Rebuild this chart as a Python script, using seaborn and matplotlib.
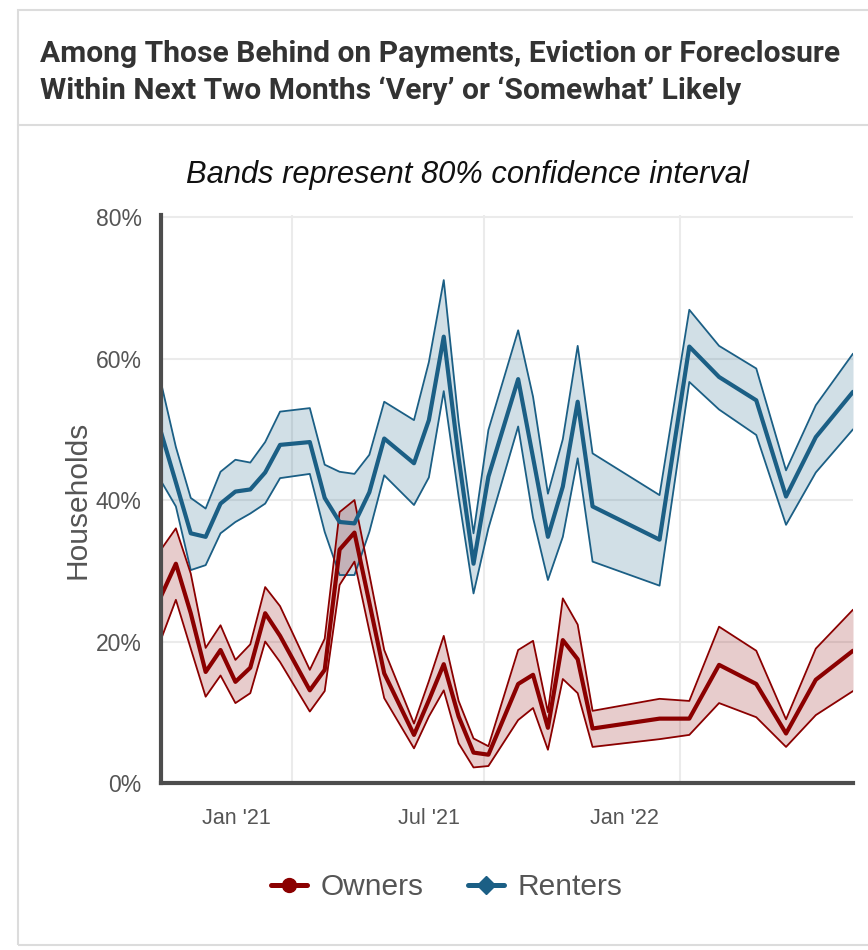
import matplotlib
matplotlib.use("Agg")
import matplotlib.pyplot as plt
from matplotlib.lines import Line2D
from matplotlib.patches import Rectangle
from matplotlib.transforms import ScaledTranslation
import pandas as pd
import seaborn as sns

# Household Pulse Survey collection periods (end date of each survey week)
week_end = [
    "2020-08-31", "2020-09-14", "2020-09-28", "2020-10-12", "2020-10-26",
    "2020-11-09", "2020-11-23", "2020-12-07", "2020-12-21", "2021-01-18",
    "2021-02-01", "2021-02-15", "2021-03-01", "2021-03-15", "2021-03-29",
    "2021-04-26", "2021-05-10", "2021-05-24", "2021-06-07", "2021-06-21",
    "2021-07-05", "2021-08-02", "2021-08-16", "2021-08-30", "2021-09-13",
    "2021-09-27", "2021-10-11", "2021-12-13", "2022-01-10", "2022-02-07",
    "2022-03-14", "2022-04-11", "2022-05-09", "2022-06-13",
]

# Share (%) saying eviction / foreclosure is very or somewhat likely
owners = [26.4, 31.0, 24.0, 15.7, 18.8, 14.3, 16.3, 24.0, 20.8, 13.1,
          16.0, 33.0, 35.4, 25.5, 15.5, 6.8, 11.7, 16.8, 9.4, 4.3,
          4.0, 14.0, 15.3, 7.8, 20.2, 17.5, 7.7, 9.1, 9.1, 16.7,
          14.0, 7.0, 14.6, 18.7]
owners_hi = [33.0, 36.0, 29.6, 19.1, 22.3, 17.4, 19.6, 27.7, 25.0, 16.0,
             20.4, 38.3, 40.0, 29.5, 18.8, 8.4, 14.4, 20.8, 11.6, 6.3,
             5.2, 18.8, 20.1, 10.0, 26.1, 22.4, 10.2, 11.9, 11.6, 22.1,
             18.7, 9.0, 19.0, 24.5]
owners_lo = [20.3, 25.9, 19.0, 12.2, 15.2, 11.3, 12.7, 20.0, 17.1, 10.1,
             13.0, 28.0, 31.3, 21.5, 12.0, 4.9, 9.4, 13.1, 5.6, 2.2,
             2.4, 8.9, 10.6, 4.7, 14.7, 12.7, 5.1, 6.2, 6.8, 11.3,
             9.3, 5.1, 9.6, 13.0]

renters = [49.6, 42.5, 35.3, 34.8, 39.5, 41.2, 41.5, 43.9, 47.8, 48.2,
           40.3, 36.9, 36.7, 41.1, 48.7, 45.2, 51.3, 63.1, 46.0, 31.0,
           43.3, 57.1, 46.0, 34.8, 41.9, 53.9, 39.1, 34.4, 61.7, 57.4,
           54.1, 40.5, 48.9, 55.3]
renters_hi = [56.6, 47.5, 40.3, 38.8, 44.0, 45.7, 45.3, 48.2, 52.5, 53.0,
              45.0, 44.0, 43.7, 46.4, 53.9, 51.3, 59.5, 71.1, 51.0, 35.3,
              49.9, 64.0, 54.6, 40.9, 48.6, 61.8, 46.6, 40.7, 66.9, 61.8,
              58.6, 44.2, 53.4, 60.7]
renters_lo = [42.7, 39.1, 30.1, 30.8, 35.3, 36.9, 38.1, 39.5, 43.1, 43.7,
              35.5, 29.4, 29.4, 35.5, 43.5, 39.3, 43.2, 55.4, 40.5, 26.8,
              36.0, 50.4, 37.5, 28.7, 34.8, 45.9, 31.3, 27.9, 56.7, 52.8,
              49.2, 36.5, 43.9, 50.0]

x_tick_dates = ["2021-01-01", "2021-07-01", "2022-01-01"]
x_tick_labels = ["Jan '21", "Jul '21", "Jan '22"]
y_ticks = [0, 20, 40, 60, 80]
y_tick_labels = ["0%", "20%", "40%", "60%", "80%"]

series_names = ["Owners", "Renters"]
colors = {"Owners": "#8b0000", "Renters": "#1b5f85"}
markers = {"Owners": "o", "Renters": "D"}

title_lines = [
    "Among Those Behind on Payments, Eviction or Foreclosure",
    "Within Next Two Months \u2018Very\u2019 or \u2018Somewhat\u2019 Likely",
]
subtitle = "Bands represent 80% confidence interval"

dates = pd.to_datetime(week_end)
df = pd.concat([
    pd.DataFrame({"date": dates, "group": "Owners", "value": owners,
                  "lo": owners_lo, "hi": owners_hi}),
    pd.DataFrame({"date": dates, "group": "Renters", "value": renters,
                  "lo": renters_lo, "hi": renters_hi}),
], ignore_index=True)

sns.set_theme(style="white")
plt.rcParams["font.family"] = ["Liberation Sans", "DejaVu Sans"]

W, H = 868, 950
fig = plt.figure(figsize=(W / 100, H / 100), dpi=100)
fig.patch.set_facecolor("white")

# card frame and header divider
fig.add_artist(Rectangle((18 / W, 1 - 945 / H), 2.0, (945 - 10) / H,
                         transform=fig.transFigure, facecolor="none",
                         edgecolor="#dcdcdc", linewidth=1.5))
fig.add_artist(Line2D([18 / W, 1.0], [1 - 125 / H, 1 - 125 / H],
                      transform=fig.transFigure, color="#dcdcdc", linewidth=1.5))

for txt, base in zip(title_lines, [62, 99]):
    fig.text(40 / W, 1 - base / H, txt, ha="left", va="baseline",
             fontsize=21.6, fontweight="bold", color="#333333",
             family=["Liberation Sans Narrow", "Roboto", "DejaVu Sans"])

fig.text(467 / W, 1 - 175 / H, subtitle, ha="center", va="center",
         fontsize=22.2, fontstyle="italic", color="#111111")

ax = fig.add_axes([161 / W, 1 - 783 / H, (853 - 161) / W, (783 - 215) / H])

# draw renters first so the owners band sits on top where they cross
for name in ["Renters", "Owners"]:
    sub = df[df["group"] == name]
    c = colors[name]
    ax.fill_between(sub["date"], sub["lo"], sub["hi"], color=c, alpha=0.2,
                    linewidth=0, zorder=2)
    sns.lineplot(data=sub, x="date", y="lo", ax=ax, color=c, linewidth=1.3,
                 zorder=3, legend=False)
    sns.lineplot(data=sub, x="date", y="hi", ax=ax, color=c, linewidth=1.3,
                 zorder=3, legend=False)
    sns.lineplot(data=sub, x="date", y="value", ax=ax, color=c, linewidth=3.0,
                 zorder=4, legend=False)

ax.set_xlim(dates.min(), dates.max())
ax.set_ylim(0, 80.3)
ax.set_xlabel("")
ax.set_ylabel("")

ax.set_yticks(y_ticks)
ax.set_yticklabels(y_tick_labels)
ax.set_xticks(pd.to_datetime(x_tick_dates))
ax.set_xticklabels(x_tick_labels)

ax.grid(True, color="#ebebeb", linewidth=1.5, zorder=0)
ax.set_axisbelow(True)

for side in ["top", "right"]:
    ax.spines[side].set_visible(False)
for side in ["left", "bottom"]:
    ax.spines[side].set_color("#4d4d4d")
    ax.spines[side].set_linewidth(3)
    ax.spines[side].set_zorder(5)

ax.tick_params(axis="both", which="major", length=8, width=2.8,
               color="#4d4d4d", labelcolor="#555555", labelsize=15.5,
               direction="out")
ax.tick_params(axis="y", pad=6, labelsize=16.5)
ax.tick_params(axis="x", pad=10)

# month labels sit to the left of their tick marks
shift = ScaledTranslation(-55.5 / 100, 0, fig.dpi_scale_trans)
for lab in ax.get_xticklabels():
    lab.set_transform(lab.get_transform() + shift)

fig.text(78 / W, 1 - 500 / H, "Households", rotation=90, ha="center",
         va="center", fontsize=21.5, color="#555555")

handles = [Line2D([0], [0], color=colors[n], linewidth=3.6, marker=markers[n],
                  markersize=10 if n == "Owners" else 9)
           for n in series_names]
fig.legend(handles, series_names, loc="center",
           bbox_to_anchor=(447 / W, 1 - 887 / H), ncol=2, frameon=False,
           fontsize=21.5, labelcolor="#555555", handlelength=1.2,
           handletextpad=0.45, columnspacing=1.5)

fig.savefig("out.png", dpi=100, facecolor="white")
